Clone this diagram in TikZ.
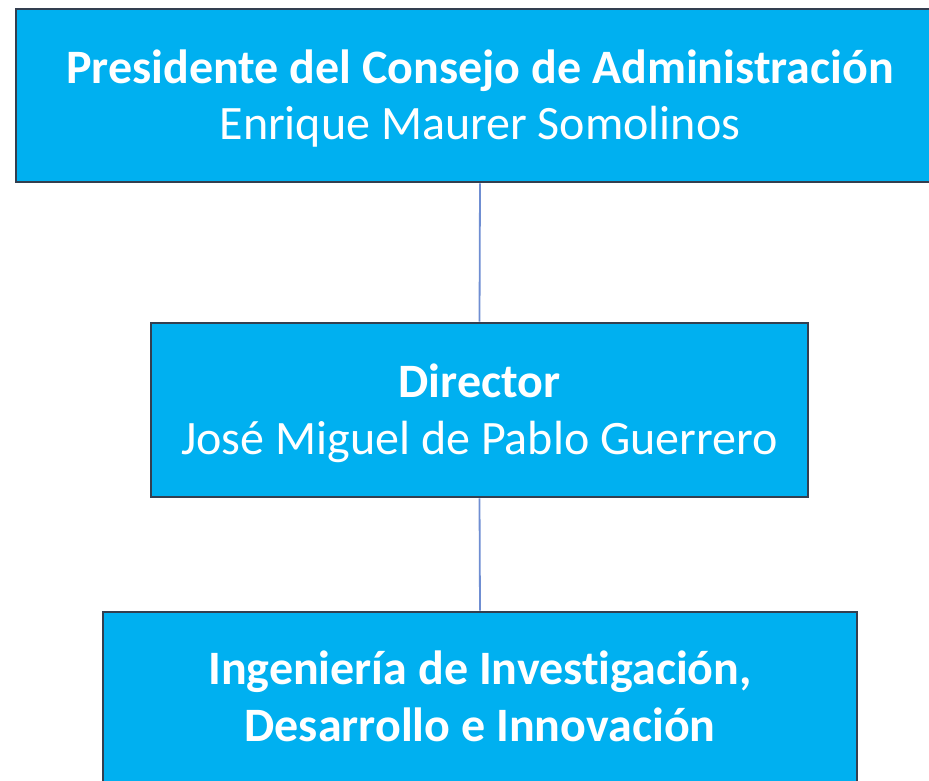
\documentclass[tikz,border=0pt]{standalone}
\usepackage{fontspec}
\setmainfont[Ligatures={NoCommon}]{Carlito}
\definecolor{boxfill}{HTML}{00B0F0}
\definecolor{boxline}{HTML}{333F50}
\definecolor{conn}{HTML}{6F8ED2}
\begin{document}
\begin{tikzpicture}[x=1pt,y=-1pt,
  orgbox/.style={draw=boxline, line width=2.6pt, fill=boxfill, inner sep=0pt},
  orgtext/.style={text=white, inner sep=0pt, align=center,
    font=\fontsize{48}{57}\selectfont},
  link/.style={draw=conn, line width=1.8pt}]
\useasboundingbox (0,0) rectangle (929,781);
\node[orgbox, minimum width=928pt, minimum height=173pt] (pres) at (480,95.5) {};
\node[orgbox, minimum width=657pt, minimum height=174pt] (dir) at (479.5,410) {};
\node[orgbox, minimum width=754pt, minimum height=174pt] (ing) at (480,699) {};
\node[orgtext, anchor=base] (prest) at (480,140)
  {\textbf{Presidente del Consejo de Administración}\\Enrique Maurer Somolinos};
\node[orgtext, anchor=base] (dirt) at (479.5,454)
  {\textbf{Director}\\José Miguel de Pablo Guerrero};
\node[orgtext, anchor=base] (ingt) at (480,741)
  {\textbf{Ingeniería de Investigación,}\\\textbf{Desarrollo e Innovación}};
\draw[link] (pres.south) -- (dir.north);
\draw[link] (dir.south) -- (ing.north);
\end{tikzpicture}
\end{document}
